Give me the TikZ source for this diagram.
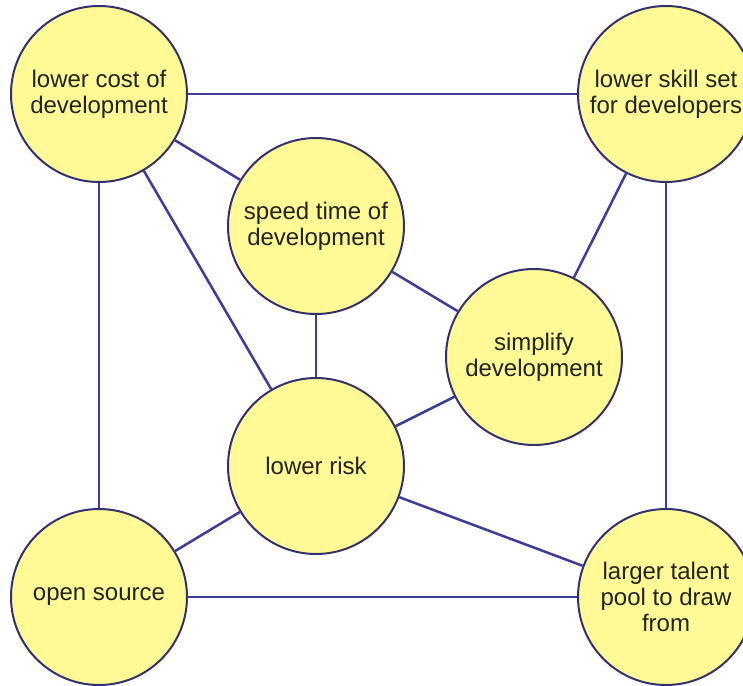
\documentclass[tikz,border=0pt]{standalone}
\usepackage{fontspec}
\setmainfont{Liberation Sans}
\definecolor{bubblefill}{RGB}{255,250,150}
\definecolor{bubbleedge}{RGB}{50,50,110}
\definecolor{linkblue}{RGB}{60,60,155}
\definecolor{inktext}{RGB}{35,35,25}
\begin{document}
\begin{tikzpicture}[x=1pt,y=-1pt,
  bubble/.style={circle, draw=bubbleedge, line width=2pt, fill=bubblefill,
    minimum size=176pt, inner sep=0pt, align=center, text=inktext,
    font=\fontsize{24}{26}\selectfont},
  link/.style={draw=linkblue, line width=2.5pt}]
  \useasboundingbox (0,0) rectangle (743,685);
  \clip (0,0) rectangle (743,685);
  \node[bubble] (cost)   at (99,94)   {lower cost of\\development};
  \node[bubble] (skill)  at (666,94)  {lower skill set\\for developers};
  \node[bubble] (speed)  at (316,226) {speed time of\\development};
  \node[bubble] (simp)   at (534,357) {simplify\\development};
  \node[bubble] (risk)   at (316,466) {lower risk};
  \node[bubble] (open)   at (99,597)  {open source};
  \node[bubble] (talent) at (666,597) {larger talent\\pool to draw\\from};
  \draw[link] (cost) -- (skill);
  \draw[link] (cost) -- (speed);
  \draw[link] (cost) -- (risk);
  \draw[link] (cost) -- (open);
  \draw[link] (skill) -- (simp);
  \draw[link] (skill) -- (talent);
  \draw[link] (speed) -- (simp);
  \draw[link] (speed) -- (risk);
  \draw[link] (simp) -- (risk);
  \draw[link] (risk) -- (open);
  \draw[link] (risk) -- (talent);
  \draw[link] (open) -- (talent);
\end{tikzpicture}
\end{document}
